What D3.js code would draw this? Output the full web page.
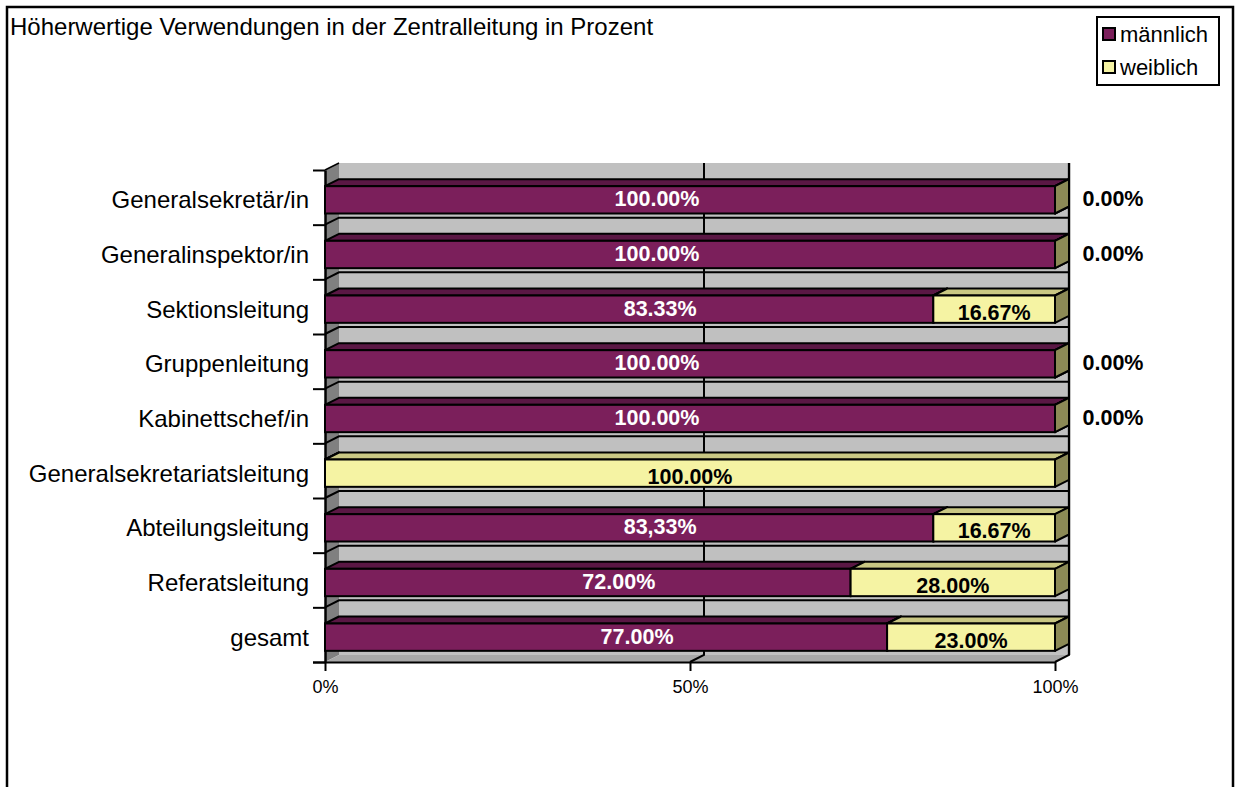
<!DOCTYPE html>
<html>
<head>
<meta charset="utf-8">
<script src="https://cdn.jsdelivr.net/npm/d3@7"></script>
<style>
  body { margin: 0; background: #fff; }
  text { font-family: Arial, "Liberation Sans", sans-serif; }
</style>
</head>
<body>
<div id="chart"></div>
<script>
const categories = ['Generalsekretär/in', 'Generalinspektor/in', 'Sektionsleitung', 'Gruppenleitung',
  'Kabinettschef/in', 'Generalsekretariatsleitung', 'Abteilungsleitung', 'Referatsleitung', 'gesamt'];
const maennlich = [1, 1, 0.8333, 1, 1, 0, 0.8333, 0.72, 0.77];
const weiblich = [0, 0, 0.1667, 0, 0, 1, 0.1667, 0.28, 0.23];
const maennlichLabels = ['100.00%', '100.00%', '83.33%', '100.00%', '100.00%', '', '83,33%', '72.00%', '77.00%'];
const weiblichLabels = ['0.00%', '0.00%', '16.67%', '0.00%', '0.00%', '100.00%', '16.67%', '28.00%', '23.00%'];
const xTicks = [0, 0.5, 1];
const seriesNames = ['männlich', 'weiblich'];

const width = 1237;
const height = 787;
const plot = { left: 325, right: 1055, top: 170, bottom: 662 };
const depth = { dx: 14, dy: -7 };
const barShift = 2.5;
const colors = {
  front: ['#7b1f5b', '#f5f3a3'],
  top: ['#5a1744', '#c9c783'],
  side: ['#5a1744', '#8c8a56'],
  wall: '#c0c0c0', sideWall: '#808080', floor: '#a8a8a8'
};

const x = d3.scaleLinear().domain([0, 1]).range([plot.left, plot.right]);
const y = d3.scaleBand().domain(categories)
  .range([plot.top + barShift, plot.bottom + barShift]).paddingInner(0.5).paddingOuter(0.25);
const yEdge = d3.scaleLinear().domain([0, categories.length]).range([plot.top, plot.bottom]);

const svg = d3.select('#chart').append('svg')
  .attr('width', width).attr('height', height);

// outer frame
svg.append('rect')
  .attr('x', 7).attr('y', 7).attr('width', 1226).attr('height', 800)
  .attr('fill', 'none').attr('stroke', '#000').attr('stroke-width', 2.5);

svg.append('text')
  .attr('x', 10).attr('y', 35)
  .attr('font-size', 24)
  .text('Höherwertige Verwendungen in der Zentralleitung in Prozent');

// walls
const poly = pts => pts.map(p => p.join(',')).join(' ');
const { dx, dy } = depth;
svg.append('polygon')
  .attr('points', poly([[plot.left + dx, plot.top + dy], [plot.right + dx, plot.top + dy],
    [plot.right + dx, plot.bottom + dy], [plot.left + dx, plot.bottom + dy]]))
  .attr('fill', colors.wall);
svg.append('line')
  .attr('x1', plot.right + dx).attr('x2', plot.right + dx)
  .attr('y1', plot.top + dy).attr('y2', plot.bottom + dy)
  .attr('stroke', '#8a8a8a').attr('stroke-width', 3);
svg.append('polygon')
  .attr('points', poly([[plot.left, plot.top], [plot.left + dx, plot.top + dy],
    [plot.left + dx, plot.bottom + dy], [plot.left, plot.bottom]]))
  .attr('fill', colors.sideWall);
svg.append('polygon')
  .attr('points', poly([[plot.left, plot.bottom], [plot.right, plot.bottom],
    [plot.right + dx, plot.bottom + dy], [plot.left + dx, plot.bottom + dy]]))
  .attr('fill', colors.floor);

// category gridlines on the walls
const edges = d3.range(1, categories.length);
svg.selectAll('.hgrid')
  .data(edges)
  .join('polyline')
    .attr('class', 'hgrid')
    .attr('points', d => poly([[plot.left, yEdge(d)], [plot.left + dx, yEdge(d) + dy], [plot.right + dx, yEdge(d) + dy]]))
    .attr('fill', 'none').attr('stroke', '#000').attr('stroke-width', 2);

// value gridlines on the back wall and floor
svg.selectAll('.vgrid')
  .data(xTicks.slice(1))
  .join('polyline')
    .attr('class', 'vgrid')
    .attr('points', d => poly([[x(d), plot.bottom], [x(d) + dx, plot.bottom + dy], [x(d) + dx, plot.top + dy]]))
    .attr('fill', 'none').attr('stroke', '#000').attr('stroke-width', 2);

// axes
svg.append('g')
  .attr('transform', `translate(0,${plot.bottom})`)
  .call(d3.axisBottom(x).tickValues(xTicks).tickFormat(d3.format('.0%')).tickSize(9).tickSizeOuter(0))
  .call(g => g.select('.domain').attr('stroke-width', 2).attr('d', `M${plot.left - 12},0.5H${plot.right}`))
  .call(g => g.selectAll('line').attr('stroke-width', 2))
  .call(g => g.selectAll('text').attr('font-size', 18).attr('font-family', 'Arial, "Liberation Sans", sans-serif').attr('dy', '1.05em'));

svg.append('g')
  .attr('transform', `translate(${plot.left},0)`)
  .call(d3.axisLeft(yEdge).tickValues(d3.range(0, categories.length + 1)).tickFormat('').tickSize(12).tickSizeOuter(0))
  .call(g => g.select('.domain').attr('stroke-width', 2.5))
  .call(g => g.selectAll('line').attr('stroke-width', 2));

svg.append('line')
  .attr('x1', plot.left).attr('x2', plot.left + dx)
  .attr('y1', plot.top).attr('y2', plot.top + dy)
  .attr('stroke', '#000').attr('stroke-width', 1.5);

svg.selectAll('.cat')
  .data(categories)
  .join('text')
    .attr('class', 'cat')
    .attr('x', plot.left - 16)
    .attr('y', d => y(d) + y.bandwidth() / 2)
    .attr('dy', '0.35em')
    .attr('text-anchor', 'end')
    .attr('font-size', 24)
    .text(d => d);

// 3D stacked bars
const segments = [];
categories.forEach((c, i) => {
  let start = 0;
  [maennlich[i], weiblich[i]].forEach((v, s) => {
    segments.push({ cat: c, s, x0: start, x1: start + v });
    start += v;
  });
});

const bars = svg.append('g').selectAll('g')
  .data(segments)
  .join('g');
const bw = y.bandwidth();
bars.append('polygon')
  .attr('points', d => poly([[x(d.x0), y(d.cat)], [x(d.x1), y(d.cat)],
    [x(d.x1) + dx, y(d.cat) + dy], [x(d.x0) + dx, y(d.cat) + dy]]))
  .attr('fill', d => colors.top[d.s]).attr('stroke', '#000').attr('stroke-width', 2).attr('stroke-linejoin', 'round');
bars.append('polygon')
  .attr('points', d => poly([[x(d.x1), y(d.cat)], [x(d.x1) + dx, y(d.cat) + dy],
    [x(d.x1) + dx, y(d.cat) + bw + dy], [x(d.x1), y(d.cat) + bw]]))
  .attr('fill', d => colors.side[d.s]).attr('stroke', '#000').attr('stroke-width', 2).attr('stroke-linejoin', 'round');
bars.filter(d => d.x1 > d.x0).append('rect')
  .attr('x', d => x(d.x0))
  .attr('y', d => y(d.cat))
  .attr('width', d => x(d.x1) - x(d.x0))
  .attr('height', bw)
  .attr('fill', d => colors.front[d.s]).attr('stroke', '#000').attr('stroke-width', 2);

// data labels
const labelY = c => y(c) + bw / 2;
svg.selectAll('.mlab')
  .data(categories.filter((c, i) => maennlichLabels[i] !== ''))
  .join('text')
    .attr('class', 'mlab')
    .attr('x', c => {
      const i = categories.indexOf(c);
      return weiblich[i] > 0 ? x(maennlich[i] / 2) + 31 : x(0.5) - 33;
    })
    .attr('y', labelY)
    .attr('dy', '0.3em')
    .attr('text-anchor', 'middle')
    .attr('font-size', 21.5).attr('font-weight', 'bold').attr('fill', '#fff')
    .text(c => maennlichLabels[categories.indexOf(c)]);

svg.selectAll('.wlab')
  .data(categories)
  .join('text')
    .attr('class', 'wlab')
    .attr('x', (c, i) => weiblich[i] > 0 ? x(maennlich[i] + weiblich[i] / 2) : x(1) + 58)
    .attr('y', (c, i) => labelY(c) + (weiblich[i] > 0 ? 3 : -1))
    .attr('dy', '0.35em')
    .attr('text-anchor', 'middle')
    .attr('font-size', 21.5).attr('font-weight', 'bold').attr('fill', '#000')
    .text((c, i) => weiblichLabels[i]);

// legend
const legend = svg.append('g').attr('transform', 'translate(1097,17)');
legend.append('rect')
  .attr('width', 122).attr('height', 68)
  .attr('fill', '#fff').attr('stroke', '#000').attr('stroke-width', 2);
const items = legend.selectAll('.item')
  .data(seriesNames)
  .join('g')
    .attr('class', 'item')
    .attr('transform', (d, i) => `translate(6,${11 + i * 33})`);
items.append('rect')
  .attr('width', 12).attr('height', 12)
  .attr('fill', (d, i) => colors.front[i]).attr('stroke', '#000').attr('stroke-width', 2);
items.append('text')
  .attr('x', 17).attr('y', 6).attr('dy', '0.35em')
  .attr('font-size', 22)
  .text(d => d);
</script>
</body>
</html>
